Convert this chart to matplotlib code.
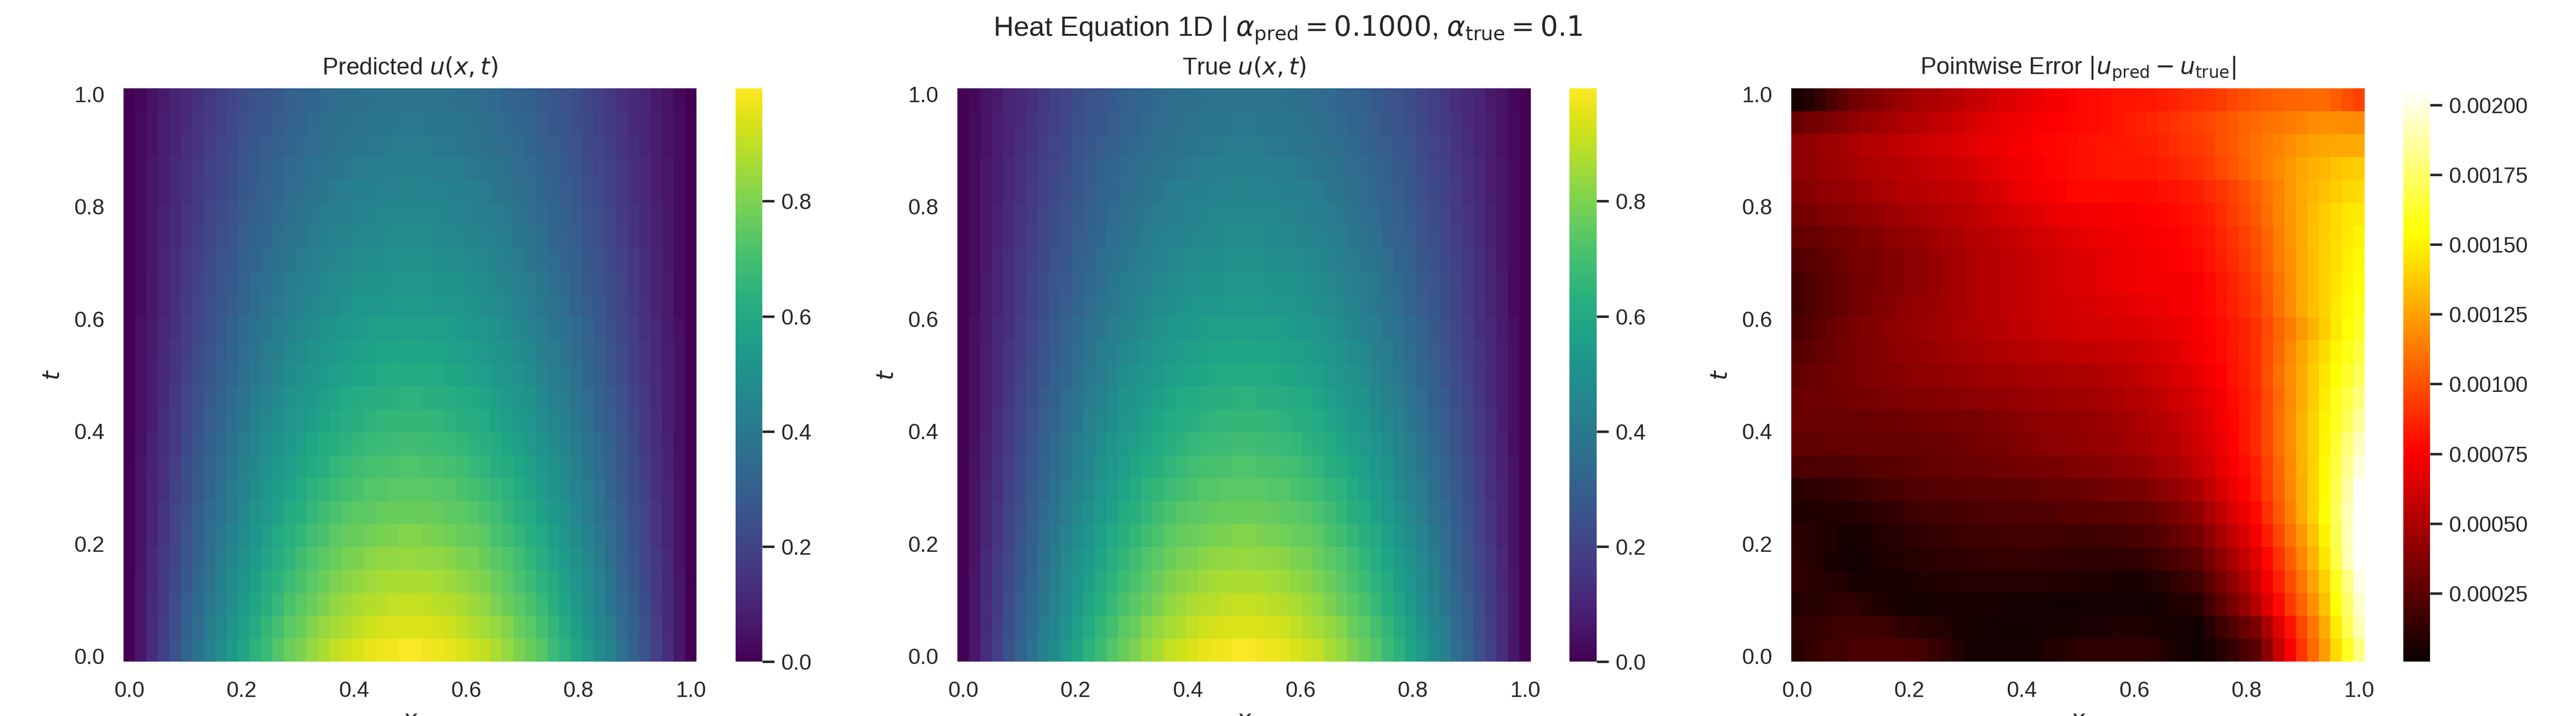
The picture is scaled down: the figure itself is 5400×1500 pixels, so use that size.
"""Heat equation 1D: predicted field, true field and pointwise error."""

import numpy as np
import matplotlib
matplotlib.use("Agg")
import matplotlib.pyplot as plt

plt.rcParams['font.family'] = ['Liberation Sans', 'DejaVu Sans']
plt.rcParams['mathtext.fontset'] = 'dejavusans'

# ------------------------------
# Data
# Rows run from t = 1 (top) to t = 0 (bottom), in 25 rows
# ------------------------------

# u(x, t) in percent, left half of the domain (the field reads as mirror symmetric).
# Predicted and true differ by at most 0.002, which cannot be read from the
# colours, so both panels are drawn from this one table.
u_left_pct = [
    [0,2,5,7,10,12,14,16,19,21,23,25,26,28,30,31,32,34,35,36,36,37,38,38,38],
    [0,3,5,8,10,12,15,17,19,22,24,26,27,29,31,32,34,35,36,37,38,39,39,39,40],
    [0,3,5,8,10,13,15,18,20,22,25,27,29,30,32,34,35,36,37,38,39,40,40,41,41],
    [0,3,6,8,11,14,16,19,21,23,26,28,30,32,34,35,37,38,39,40,41,42,42,43,43],
    [0,3,6,8,11,14,17,19,22,24,27,29,31,33,35,36,38,39,41,42,43,43,44,44,45],
    [0,3,6,9,12,15,17,20,23,25,28,30,32,34,36,38,40,41,42,43,44,45,46,46,46],
    [0,3,6,9,12,15,18,21,24,26,29,31,33,36,38,39,41,43,44,45,46,47,47,48,48],
    [0,3,6,10,13,16,19,22,25,27,30,32,35,37,39,41,43,44,46,47,48,49,49,50,50],
    [0,3,7,10,13,16,20,23,26,28,31,34,36,39,41,43,44,46,48,49,50,51,51,52,52],
    [0,3,7,10,14,17,20,23,27,29,32,35,38,40,42,44,46,48,49,51,52,53,53,54,54],
    [0,4,7,11,14,18,21,24,28,31,34,37,39,42,44,46,48,50,52,53,54,55,56,56,56],
    [0,4,8,11,15,18,22,25,29,32,35,38,41,43,46,48,50,52,54,55,56,57,58,58,59],
    [0,4,8,12,15,19,23,26,30,33,36,40,42,45,48,50,52,54,56,57,58,59,60,61,61],
    [0,4,8,12,16,20,24,28,31,35,38,41,44,47,50,52,54,56,58,60,61,62,63,63,64],
    [0,4,8,13,17,21,25,29,32,36,39,43,46,49,52,54,56,58,60,62,63,64,65,66,66],
    [0,4,9,13,17,22,26,30,34,38,41,45,48,51,54,56,59,61,63,64,66,67,68,68,69],
    [0,5,9,14,18,23,27,31,35,39,43,46,50,53,56,59,61,63,65,67,69,70,71,71,72],
    [0,5,10,14,19,23,28,32,37,41,44,48,52,55,58,61,64,66,68,70,71,73,73,74,74],
    [0,5,10,15,20,24,29,34,38,42,46,50,54,57,61,63,66,69,71,73,74,75,76,77,77],
    [0,5,10,15,20,25,30,35,40,44,48,52,56,60,63,66,69,71,74,76,77,78,79,80,81],
    [0,5,11,16,21,26,31,36,41,46,50,54,58,62,65,69,72,74,77,79,80,82,83,83,84],
    [0,6,11,17,22,27,33,38,43,48,52,56,61,64,68,71,74,77,80,82,83,85,86,87,87],
    [0,6,12,17,23,29,34,39,44,49,54,59,63,67,71,74,77,80,83,85,87,88,89,90,91],
    [0,6,12,18,24,30,35,41,46,51,56,61,66,70,74,77,81,84,86,88,90,92,93,94,94],
    [0,6,13,19,25,31,37,43,48,54,59,64,68,73,77,80,84,87,90,92,94,96,97,98,99],
]

# |u_pred - u_true| in units of 1e-5
err_e5 = [
    [5,8,14,20,26,32,35,38,41,44,47,49,50,52,54,57,59,62,64,66,68,70,72,74,76,78,79,80,81,81,82,83,84,86,88,90,92,94,97,100,102,104,105,106,107,108,108,104,100,96],
    [30,32,34,36,39,42,44,46,48,50,52,54,56,58,60,63,65,67,69,71,72,74,75,76,77,78,79,80,82,84,85,87,89,91,93,95,97,100,103,106,108,110,112,114,116,118,119,119,118,118],
    [40,42,44,46,48,50,52,53,55,56,58,60,61,63,64,66,68,69,71,73,74,76,77,78,79,80,81,82,82,83,84,85,87,89,91,93,96,100,103,107,110,113,116,119,122,125,126,127,128,128],
    [40,41,43,45,46,48,50,51,52,54,55,56,58,59,61,62,64,66,68,70,72,74,76,77,79,80,81,81,82,82,82,83,84,86,88,90,93,97,101,105,110,114,118,122,126,129,132,135,137,138],
    [38,39,41,42,44,45,47,49,50,52,53,54,55,56,57,58,60,63,65,68,70,72,74,75,77,78,78,78,78,78,78,79,80,81,83,85,88,92,96,100,105,111,116,122,127,131,135,138,141,143],
    [33,34,36,37,39,40,42,43,45,47,48,49,51,52,54,55,57,59,61,63,65,66,68,69,71,72,73,73,74,74,75,76,77,78,80,82,85,89,94,98,103,109,116,122,128,133,138,142,145,147],
    [28,29,30,32,33,35,37,38,40,42,43,45,47,49,50,52,54,55,57,58,60,62,63,65,66,68,69,70,71,72,73,74,75,76,78,80,83,87,91,95,100,107,114,121,128,134,139,143,147,150],
    [22,24,26,28,31,33,34,35,37,38,40,42,44,46,48,50,52,53,55,56,58,59,61,62,63,65,66,68,69,71,72,73,74,75,76,78,81,85,89,93,98,105,113,120,127,134,140,144,149,153],
    [18,21,24,26,29,32,33,35,37,38,40,42,44,46,48,50,52,53,55,56,58,59,61,62,63,65,66,68,69,71,72,72,73,73,74,75,78,82,86,90,95,103,111,119,127,134,140,145,150,155],
    [18,21,24,26,29,32,34,36,38,40,42,44,45,47,48,50,52,53,55,56,58,59,60,61,62,63,64,65,66,67,68,69,70,72,73,75,78,81,85,89,93,101,110,118,127,134,140,146,152,158],
    [20,23,26,29,32,35,37,38,40,41,43,44,46,47,49,50,51,53,54,56,57,58,59,60,61,62,62,63,64,64,65,66,68,69,71,73,76,79,83,86,90,98,106,114,122,130,138,147,155,162],
    [23,25,28,30,33,35,36,38,39,41,42,43,44,46,47,48,49,50,51,52,53,54,55,55,56,57,57,58,59,59,60,62,64,66,69,72,75,79,82,86,90,99,108,117,126,135,143,151,158,167],
    [27,29,30,32,33,35,36,37,38,39,40,41,42,43,44,45,46,46,47,47,48,48,49,49,50,50,51,53,54,55,57,59,61,64,66,68,72,76,81,85,90,100,110,119,128,138,146,154,163,172],
    [30,31,31,32,32,33,34,35,36,36,37,38,38,39,39,40,41,42,42,43,44,45,45,46,46,47,48,49,50,52,53,55,57,60,62,65,69,74,79,83,88,98,108,118,128,138,148,158,168,178],
    [30,30,30,30,30,30,30,31,31,31,32,32,33,33,34,34,35,36,37,39,40,40,41,42,42,43,44,45,47,48,50,52,54,56,59,62,67,72,77,82,88,98,109,119,130,140,150,161,172,185],
    [27,27,27,28,28,28,28,28,28,28,28,29,30,30,31,32,33,34,35,36,38,39,40,40,41,42,43,44,45,47,48,50,52,54,57,60,65,70,76,82,88,98,109,119,130,140,151,165,178,192],
    [20,20,21,21,22,22,23,24,24,25,26,27,28,28,29,30,30,31,32,32,33,34,35,35,36,37,38,39,40,41,43,45,48,50,53,57,62,68,73,79,85,96,107,118,129,140,152,167,183,198],
    [10,11,12,13,14,15,16,18,19,20,22,22,23,23,24,24,25,25,25,26,26,27,28,29,29,30,31,32,33,34,35,37,40,43,46,50,56,63,70,76,83,94,105,117,128,140,153,170,188,205],
    [7,7,7,8,8,8,10,11,13,14,16,17,18,18,19,20,20,21,21,22,22,22,22,23,23,23,24,25,25,26,27,29,32,35,38,42,49,56,64,71,78,90,103,115,128,140,154,172,190,206],
    [11,10,8,7,5,4,6,7,9,10,12,13,14,14,15,16,16,17,17,18,18,18,18,17,17,17,17,18,18,19,20,22,25,28,31,34,41,49,57,64,72,84,97,110,122,135,150,170,190,206],
    [12,10,8,6,4,3,4,6,7,8,10,10,11,12,12,13,13,14,14,14,14,14,13,13,12,12,12,12,12,13,13,15,18,20,23,26,34,42,50,58,66,78,91,104,117,130,146,168,190,206],
    [12,11,10,8,7,5,5,5,6,6,6,7,7,8,8,9,9,9,9,9,9,9,8,8,8,7,7,7,6,6,6,8,10,13,15,18,26,34,43,51,60,73,86,99,112,125,140,160,180,200],
    [8,9,10,11,12,12,10,8,6,5,4,4,4,5,5,5,5,5,4,4,4,4,4,3,3,3,3,3,3,3,3,4,5,7,8,10,18,26,35,43,52,66,79,93,106,120,135,155,175,195],
    [12,13,14,15,16,17,17,16,15,13,12,10,9,7,6,5,4,4,3,3,3,3,4,4,5,6,6,6,7,7,7,6,5,4,3,3,9,16,22,29,35,50,66,81,97,112,128,148,170,190],
    [10,13,15,17,18,20,20,20,20,20,20,18,15,12,8,4,4,4,4,4,4,5,7,8,10,12,12,12,12,12,12,11,8,6,4,2,5,9,14,20,25,41,58,75,92,108,124,142,160,180],
]

tick_labels = ["0.0", "0.2", "0.4", "0.6", "0.8", "1.0"]
u_cbar_ticks = [0.0, 0.2, 0.4, 0.6, 0.8]
err_cbar_ticks = [0.00025, 0.0005, 0.00075, 0.001, 0.00125, 0.0015, 0.00175, 0.002]

# ------------------------------
# Figure layout (pixels of the 5400 x 1500 canvas)
# ------------------------------

W, H = 5400, 1500
TOP, BOTTOM = 185, 1386
panel_x = [(259, 1460), (2007, 3209), (3755, 4957)]
cbar_x = [(1542, 1598), (3290, 3347), (5038, 5094)]


def box(x0, x1):
    return [x0 / W, 1 - BOTTOM / H, (x1 - x0) / W, (BOTTOM - TOP) / H]


u_left = np.array(u_left_pct) / 100
u_field = np.flipud(np.hstack((u_left, u_left[:, ::-1])))
err_field = np.flipud(np.array(err_e5) * 1e-5)

x_edges = np.arange(51)
t_edges = np.linspace(0, 50, u_field.shape[0] + 1)
tick_pos = np.linspace(0, 49, 6) + 0.5

panels = [
    (u_field, 'viridis', 0.0, 0.996, r"Predicted $u(x,t)$", u_cbar_ticks, "%.1f"),
    (u_field, 'viridis', 0.0, 0.996, r"True $u(x,t)$", u_cbar_ticks, "%.1f"),
    (err_field, 'hot', 5e-6, 0.00206,
     r"Pointwise Error $|u_{\mathrm{pred}} - u_{\mathrm{true}}|$",
     err_cbar_ticks, "%.5f"),
]

fig = plt.figure(figsize=(18, 5), dpi=300)
fig.text(0.5, 0.958, r"Heat Equation 1D | $\alpha_{\mathrm{pred}} = 0.1000$, $\alpha_{\mathrm{true}} = 0.1$",
         ha='center', va='center', fontsize=14, color='.15')

# ------------------------------
# Loop over the three heatmaps
# ------------------------------

for i, (field, cmap, vmin, vmax, title, cticks, cfmt) in enumerate(panels):
    ax = fig.add_axes(box(*panel_x[i]))
    mesh = ax.pcolormesh(x_edges, t_edges, field, cmap=cmap, vmin=vmin, vmax=vmax,
                         antialiased=False, linewidth=0)
    ax.set_xlim(0, 50)
    ax.set_ylim(0, 50)
    ax.set_xticks(tick_pos, tick_labels)
    ax.set_yticks(tick_pos, tick_labels)
    ax.tick_params(length=6, bottom=False, left=False, labelsize=11, labelcolor='.15')
    ax.set_title(title, fontsize=12, color='.15', pad=7)
    ax.set_xlabel(r"$x$", fontsize=12, color='.15')
    ax.set_ylabel(r"$t$", fontsize=12, color='.15', labelpad=5)
    for spine in ax.spines.values():
        spine.set_visible(False)

    cax = fig.add_axes(box(*cbar_x[i]))
    cbar = fig.colorbar(mesh, cax=cax, ticks=cticks, format=cfmt)
    cbar.outline.set_visible(False)
    cbar.ax.tick_params(length=6, width=1.25, color='.15', labelsize=11, labelcolor='.15')

plt.savefig("out.png", dpi=300)
